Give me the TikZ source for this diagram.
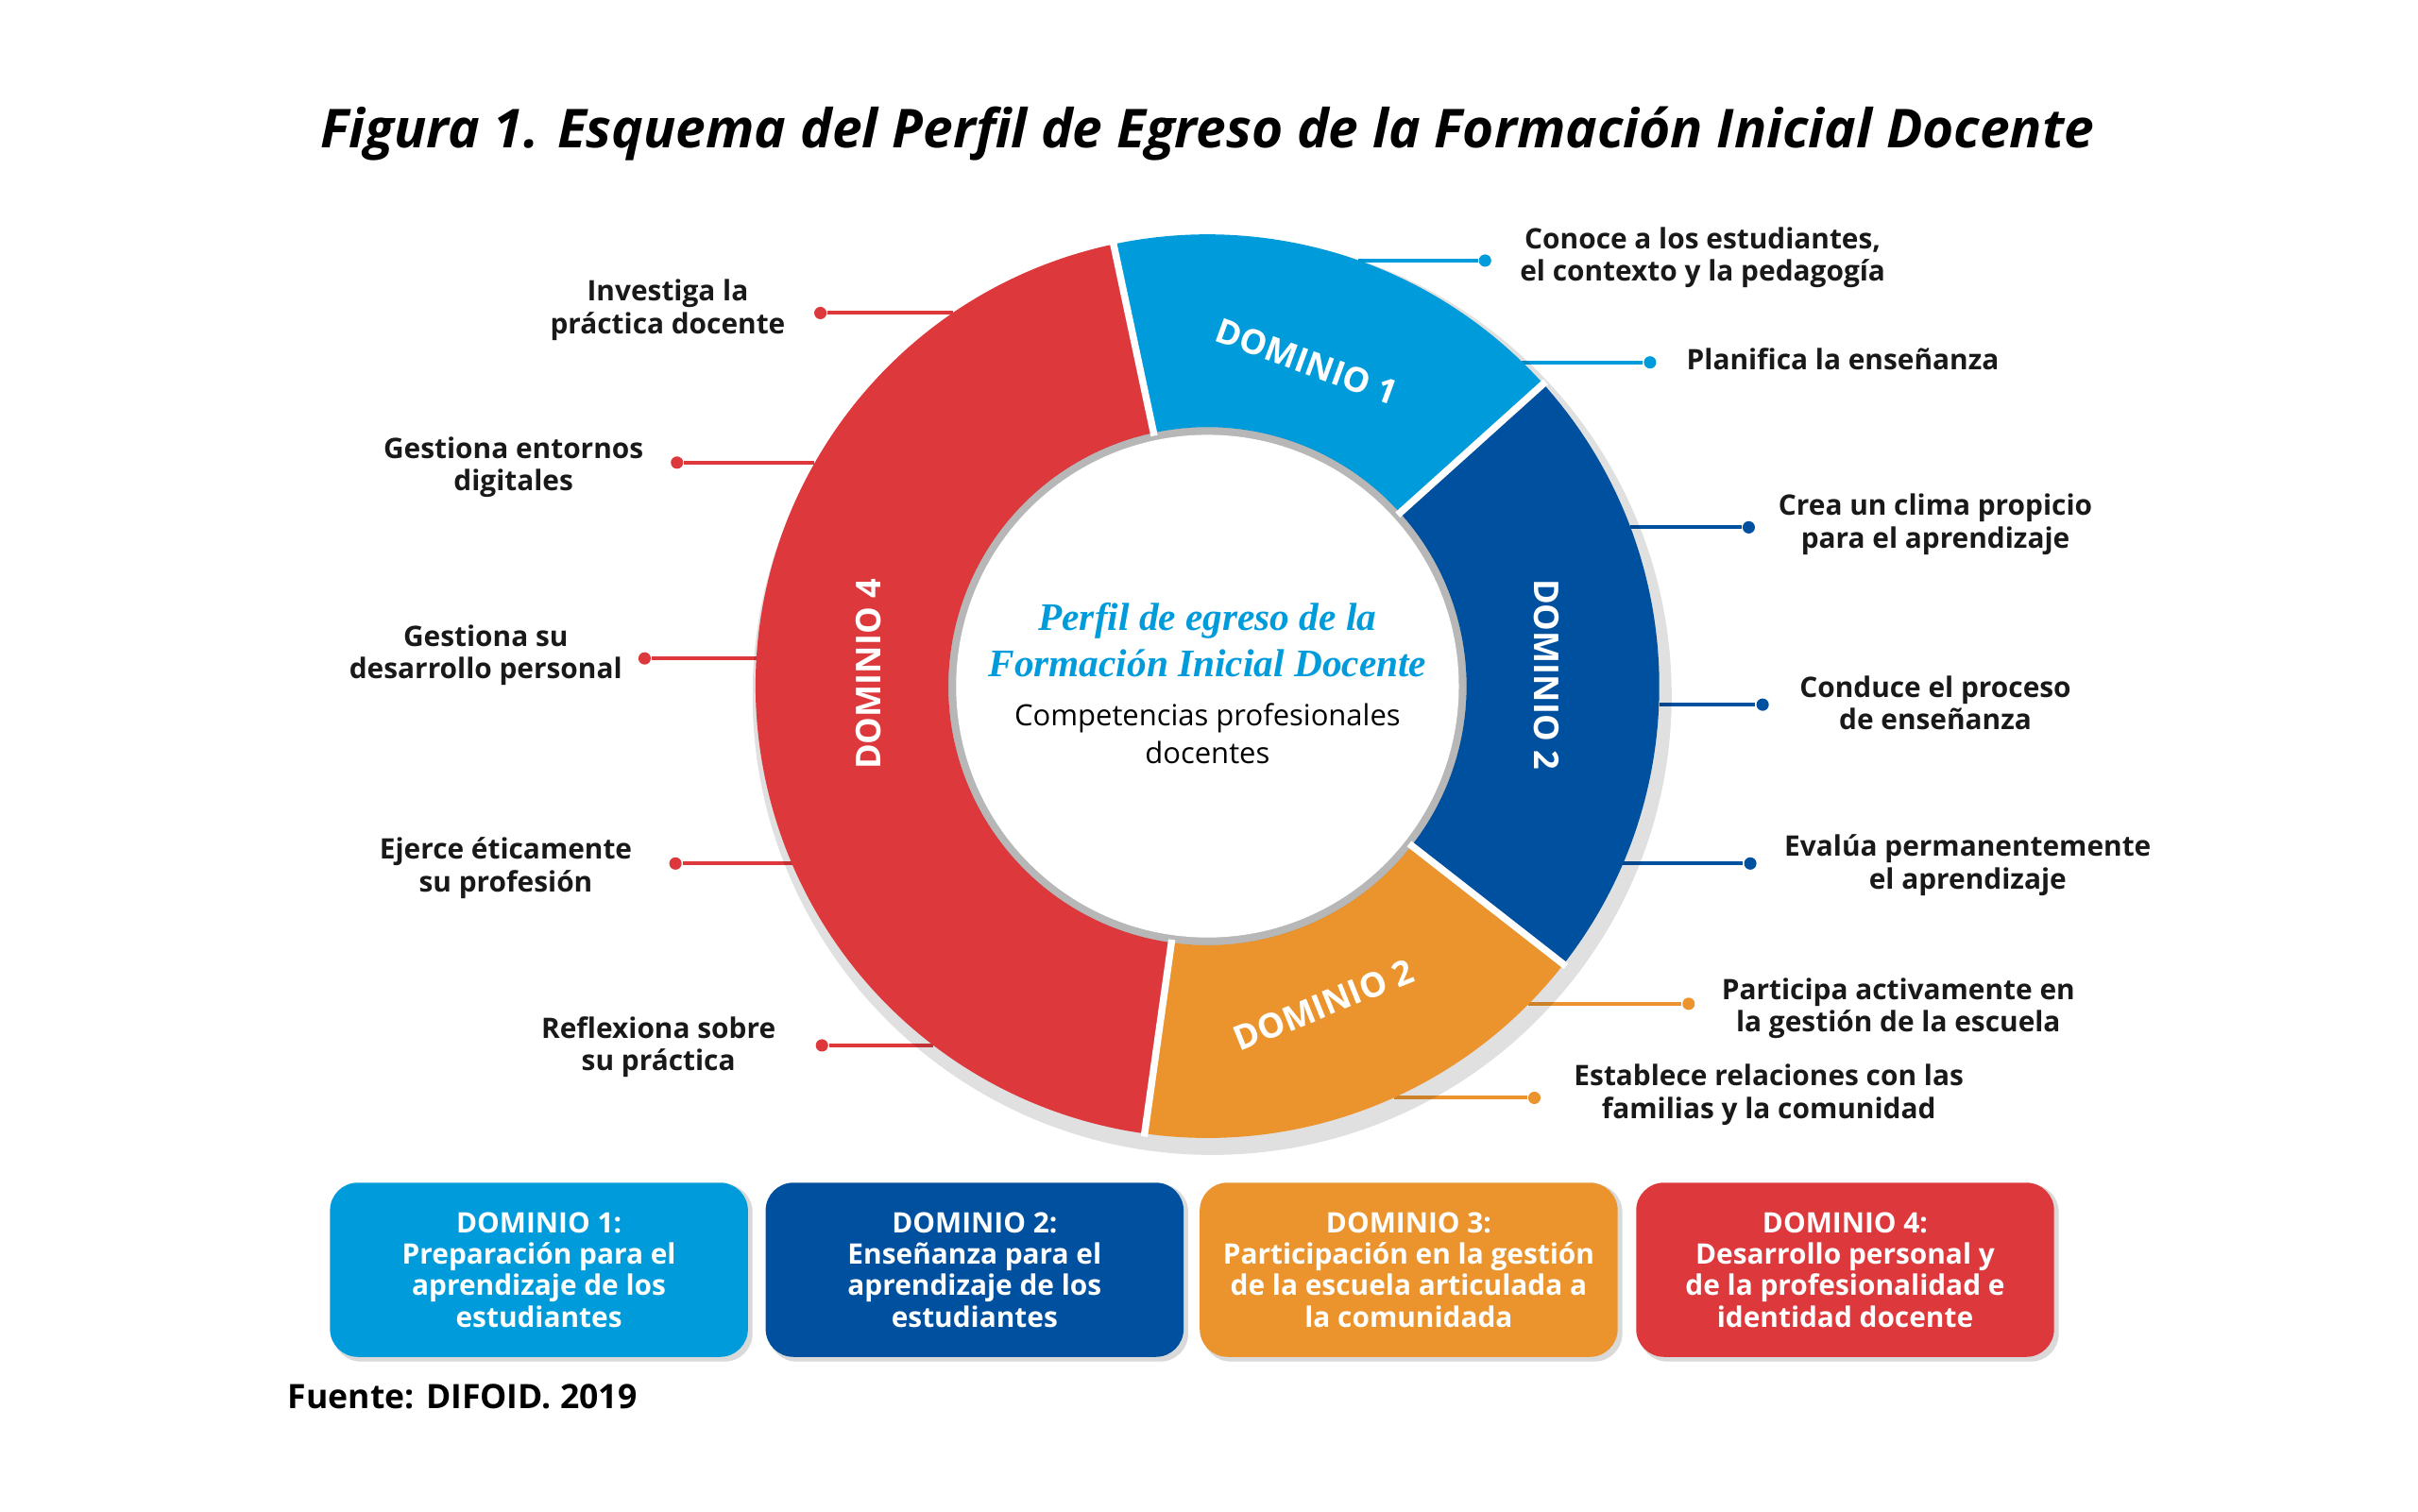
\documentclass[tikz,border=0pt]{standalone}
\usepackage{fontspec}
\setmainfont{Open Sans}
\newfontfamily\serifit{Liberation Serif}
\usetikzlibrary{positioning}
\definecolor{Dlight}{RGB}{0, 155, 218}
\definecolor{Ddark}{RGB}{0, 80, 160}
\definecolor{Dorange}{RGB}{235, 148, 45}
\definecolor{Dred}{RGB}{221, 56, 60}
\tikzset{
  lbl/.style={font=\fontsize{5.2}{6}\selectfont\bfseries, align=center, text=black!90, inner sep=0pt},
  dot/.style={circle, fill=#1, inner sep=0pt, minimum size=0.08cm},
  leader/.style={draw=#1, line width=0.7pt},
  ringtxt/.style={font=\fontsize{6.3}{7}\selectfont\bfseries, text=white},
  dombox/.style={rounded corners=0.18cm, fill=#1, minimum width=2.71cm, minimum height=1.13cm,
    text=white, align=center, font=\fontsize{5.2}{5.8}\selectfont\bfseries},
  boxshade/.style={rounded corners=0.18cm, fill=black, opacity=0.15}
}
\begin{document}
\begin{tikzpicture}
    \def\Rout{2.93}
    \def\Rin{1.68}
    \useasboundingbox (0, 0) rectangle (15.68, 9.80);
    \fill[white] (0, 0) rectangle (15.68, 9.80);
    % title
    \node (title) at (7.83, 8.93) {\resizebox{11.5cm}{!}{\bfseries\itshape Figura 1. Esquema del Perfil de Egreso de la Formación Inicial Docente}};
    % leaders (behind the ring)
    \coordinate (e1) at (8.81, 8.11);
    \coordinate (e2) at (9.87, 7.45);
    \coordinate (e3) at (10.57, 6.38);
    \coordinate (e4) at (10.76, 5.23);
    \coordinate (e5) at (10.52, 4.20);
    \coordinate (e6) at (9.91, 3.29);
    \coordinate (e7) at (9.04, 2.68);
    \coordinate (e8) at (6.18, 7.77);
    \coordinate (e9) at (5.28, 6.80);
    \coordinate (e10) at (4.91, 5.53);
    \coordinate (e11) at (5.14, 4.20);
    \coordinate (e12) at (6.05, 3.02);
    \node[dot=Dlight] (d1) at (9.63, 8.11) {};
    \node[dot=Dlight] (d2) at (10.70, 7.45) {};
    \node[dot=Ddark] (d3) at (11.34, 6.38) {};
    \node[dot=Ddark] (d4) at (11.43, 5.23) {};
    \node[dot=Ddark] (d5) at (11.35, 4.20) {};
    \node[dot=Dorange] (d6) at (10.95, 3.29) {};
    \node[dot=Dorange] (d7) at (9.95, 2.68) {};
    \node[dot=Dred] (d8) at (5.32, 7.77) {};
    \node[dot=Dred] (d9) at (4.39, 6.80) {};
    \node[dot=Dred] (d10) at (4.18, 5.53) {};
    \node[dot=Dred] (d11) at (4.38, 4.20) {};
    \node[dot=Dred] (d12) at (5.33, 3.02) {};
    \draw[leader=Dlight] (e1) -- (d1);
    \draw[leader=Dlight] (e2) -- (d2);
    \draw[leader=Ddark] (e3) -- (d3);
    \draw[leader=Ddark] (e4) -- (d4);
    \draw[leader=Ddark] (e5) -- (d5);
    \draw[leader=Dorange] (e6) -- (d6);
    \draw[leader=Dorange] (e7) -- (d7);
    \draw[leader=Dred] (e8) -- (d8);
    \draw[leader=Dred] (e9) -- (d9);
    \draw[leader=Dred] (e10) -- (d10);
    \draw[leader=Dred] (e11) -- (d11);
    \draw[leader=Dred] (e12) -- (d12);
    % ring
    \begin{scope}[shift={(7.83, 5.35)}]
        \fill[black, opacity=0.12] (0.03, -0.06) circle (\Rout + 0.05);
        \fill[Dlight] (42:\Rout) arc[start angle=42, end angle=102, radius=\Rout] -- (102:\Rin) arc[start angle=102, end angle=42, radius=\Rin] -- cycle;
        \fill[Ddark] (-38:\Rout) arc[start angle=-38, end angle=42, radius=\Rout] -- (42:\Rin) arc[start angle=42, end angle=-38, radius=\Rin] -- cycle;
        \fill[Dorange] (-98:\Rout) arc[start angle=-98, end angle=-38, radius=\Rout] -- (-38:\Rin) arc[start angle=-38, end angle=-98, radius=\Rin] -- cycle;
        \fill[Dred] (102:\Rout) arc[start angle=102, end angle=262, radius=\Rout] -- (262:\Rin) arc[start angle=262, end angle=102, radius=\Rin] -- cycle;
        \fill[black, opacity=0.18] (0, 0) circle (\Rin);
        \fill[white] (0, 0) circle (\Rin - 0.05);
        \foreach \a in {42, 102, -38, -98}
            \draw[white, line width=1.3pt] (\a:\Rin - 0.02) -- (\a:\Rout + 0.02);
        \node[ringtxt, rotate=-20] (r1) at (73:2.2) {DOMINIO 1};
        \node[ringtxt, rotate=-90] (r2) at (2:2.2) {DOMINIO 2};
        \node[ringtxt, rotate=22] (r3) at (-70:2.2) {DOMINIO 2};
        \node[ringtxt, rotate=90] (r4) at (178:2.2) {DOMINIO 4};
        % centre
        \node[font=\fontsize{7.2}{8.6}\selectfont\serifit\itshape\bfseries, text=Dlight, align=center] (perfil) at (0, 0.3) {Perfil de egreso de la\\Formación Inicial Docente};
        \node[font=\fontsize{5.4}{7}\selectfont, align=center, below=-0.08cm of perfil] (comp) {Competencias profesionales\\docentes};
    \end{scope}
    % labels
    \node[lbl, anchor=west] (l1) at (9.85, 8.13) {Conoce a los estudiantes,\\el contexto y la pedagogía};
    \node[lbl, anchor=west] (l2) at (10.93, 7.47) {Planifica la enseñanza};
    \node[lbl] (l3) at (12.55, 6.40) {Crea un clima propicio\\para el aprendizaje};
    \node[lbl] (l4) at (12.55, 5.24) {Conduce el proceso\\de enseñanza};
    \node[lbl] (l5) at (12.76, 4.19) {Evalúa permanentemente\\el aprendizaje};
    \node[lbl] (l6) at (12.31, 3.26) {Participa activamente en\\la gestión de la escuela};
    \node[lbl] (l7) at (11.47, 2.70) {Establece relaciones con las\\familias y la comunidad};
    \node[lbl] (l8) at (4.33, 7.79) {Investiga la\\práctica docente};
    \node[lbl] (l9) at (3.33, 6.77) {Gestiona entornos\\digitales};
    \node[lbl] (l10) at (3.15, 5.55) {Gestiona su\\desarrollo personal};
    \node[lbl] (l11) at (3.28, 4.17) {Ejerce éticamente\\su profesión};
    \node[lbl] (l12) at (4.27, 3.01) {Reflexiona sobre\\su práctica};
    % boxes
    \foreach \x in {3.495, 6.32, 9.135, 11.965}
        \fill[boxshade] (\x - 1.335, 1.0 - 0.03) rectangle (\x + 1.385, 2.12);
    \node[dombox=Dlight] (b1) at (3.495, 1.565) {DOMINIO 1:\\Preparación para el\\aprendizaje de los\\estudiantes};
    \node[dombox=Ddark] (b2) at (6.32, 1.565) {DOMINIO 2:\\Enseñanza para el\\aprendizaje de los\\estudiantes};
    \node[dombox=Dorange] (b3) at (9.135, 1.565) {DOMINIO 3:\\Participación en la gestión\\de la escuela articulada a\\la comunidada};
    \node[dombox=Dred] (b4) at (11.965, 1.565) {DOMINIO 4:\\Desarrollo personal y\\de la profesionalidad e\\identidad docente};
    \node[anchor=west, font=\fontsize{6.2}{7}\selectfont\bfseries, inner sep=0pt] (src) at (1.86, 0.74) {Fuente: DIFOID. 2019};
\end{tikzpicture}
\end{document}
